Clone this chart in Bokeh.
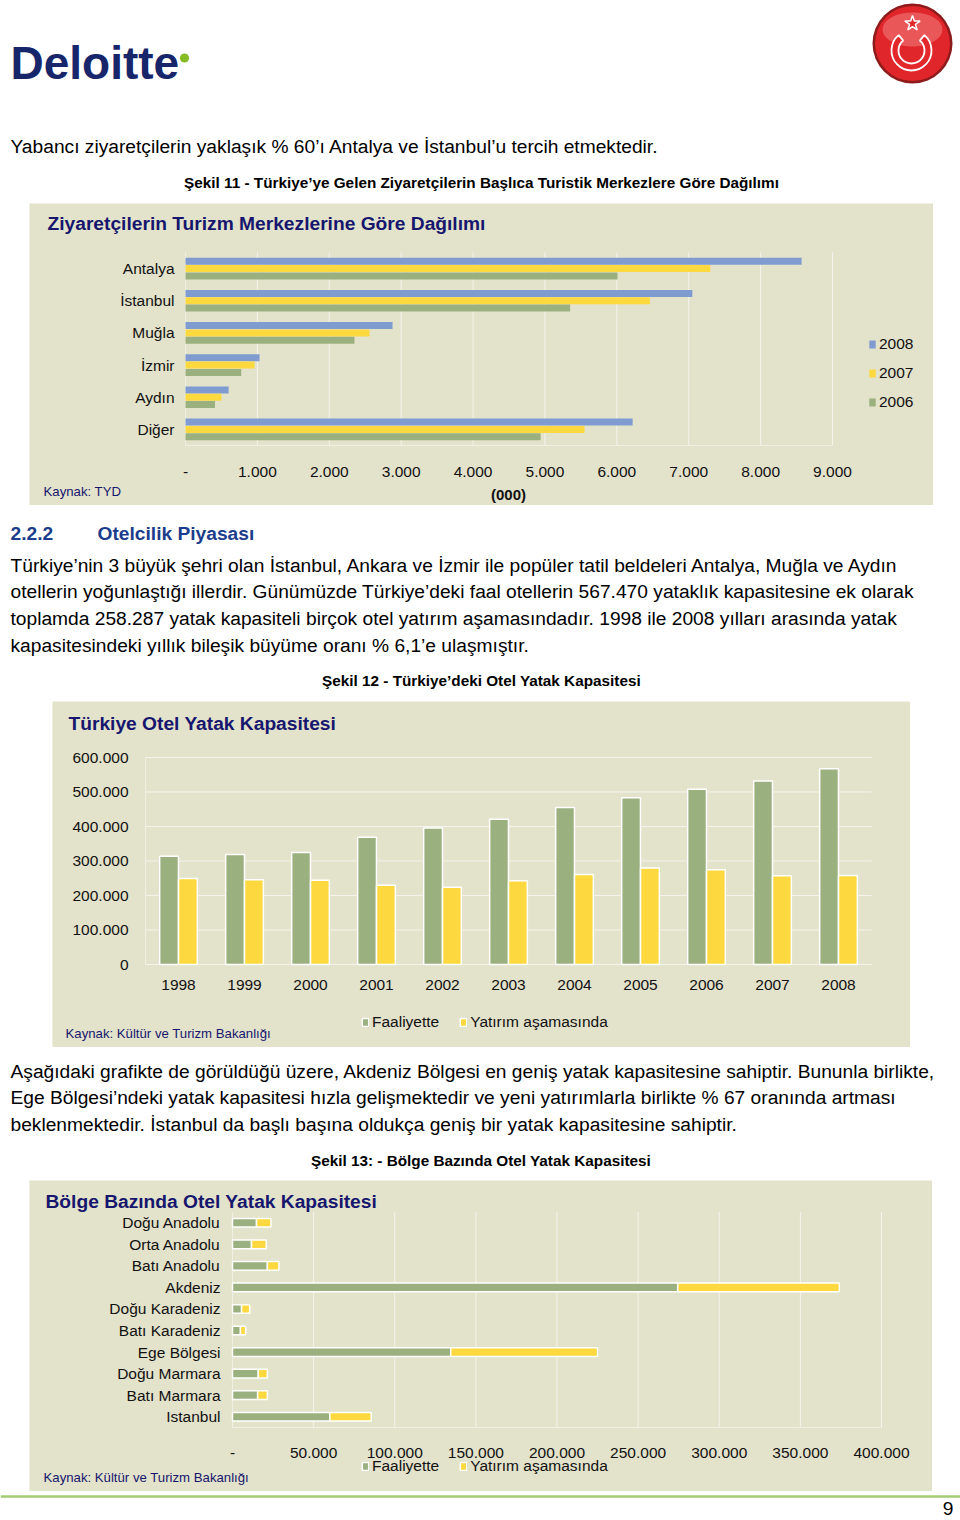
from bokeh.plotting import figure
from bokeh.models import Range1d, ColumnDataSource, Spacer, Legend, LegendItem
from bokeh.layouts import column, row
from bokeh.core.properties import value
from bokeh.embed import file_html
from bokeh.resources import INLINE

FONT = "Liberation Sans"
BG = "#e3e2cb"
NAVY = "#16166e"
BLUE_H = "#1c3c8c"
C_BLUE = "#7f9bd0"
C_YEL = "#fdd83f"
C_GRN = "#9bb07f"
GRID = "#f4f4ec"
AXIS = "#efefe4"
TXT = "#111111"

# ---------------- data: chart 1 (visitors, thousands) ----------------
centers = ["Antalya", "İstanbul", "Muğla", "İzmir", "Aydın", "Diğer"]
v2008 = [8570, 7050, 2880, 1030, 600, 6220]
v2007 = [7300, 6460, 2560, 960, 500, 5550]
v2006 = [6010, 5350, 2350, 775, 410, 4940]
x1_ticks = [0, 1000, 2000, 3000, 4000, 5000, 6000, 7000, 8000, 9000]
x1_labels = ["-", "1.000", "2.000", "3.000", "4.000", "5.000", "6.000", "7.000", "8.000", "9.000"]

# ---------------- data: chart 2 (bed capacity) ----------------
years = ["1998", "1999", "2000", "2001", "2002", "2003", "2004", "2005", "2006", "2007", "2008"]
faaliyette = [313600, 319000, 325000, 369000, 396000, 421000, 455000, 483000, 508000, 532000, 567470]
yatirim = [249000, 246000, 244000, 230000, 224000, 243000, 261000, 280000, 275000, 257000, 258287]
y2_ticks = [0, 100000, 200000, 300000, 400000, 500000, 600000]
y2_labels = ["0", "100.000", "200.000", "300.000", "400.000", "500.000", "600.000"]

# ---------------- data: chart 3 (regional capacity) ----------------
regions = ["Doğu Anadolu", "Orta Anadolu", "Batı Anadolu", "Akdeniz", "Doğu Karadeniz",
           "Batı Karadeniz", "Ege Bölgesi", "Doğu Marmara", "Batı Marmara", "Istanbul"]
reg_faal = [14800, 11700, 21500, 274400, 5600, 4900, 134500, 15900, 15500, 60000]
reg_yat = [8900, 9100, 7100, 99600, 5000, 3200, 90500, 5600, 6000, 25500]
x3_ticks = [0, 50000, 100000, 150000, 200000, 250000, 300000, 350000, 400000]
x3_labels = ["-", "50.000", "100.000", "150.000", "200.000", "250.000", "300.000", "350.000", "400.000"]

# ---------------- texts ----------------
intro = "Yabancı ziyaretçilerin yaklaşık % 60’ı Antalya ve İstanbul’u tercih etmektedir."
cap11 = "Şekil 11 - Türkiye’ye Gelen Ziyaretçilerin Başlıca Turistik Merkezlere Göre Dağılımı"
title1 = "Ziyaretçilerin Turizm Merkezlerine Göre Dağılımı"
sec_num = "2.2.2"
sec_title = "Otelcilik Piyasası"
para1 = ["Türkiye’nin 3 büyük şehri olan İstanbul, Ankara ve İzmir ile popüler tatil beldeleri Antalya, Muğla ve Aydın",
         "otellerin yoğunlaştığı illerdir. Günümüzde Türkiye’deki faal otellerin 567.470 yataklık kapasitesine ek olarak",
         "toplamda 258.287 yatak kapasiteli birçok otel yatırım aşamasındadır. 1998 ile 2008 yılları arasında yatak",
         "kapasitesindeki yıllık bileşik büyüme oranı % 6,1’e ulaşmıştır."]
cap12 = "Şekil 12 - Türkiye’deki Otel Yatak Kapasitesi"
title2 = "Türkiye Otel Yatak Kapasitesi"
para2 = ["Aşağıdaki grafikte de görüldüğü üzere, Akdeniz Bölgesi en geniş yatak kapasitesine sahiptir. Bununla birlikte,",
         "Ege Bölgesi’ndeki yatak kapasitesi hızla gelişmektedir ve yeni yatırımlarla birlikte % 67 oranında artması",
         "beklenmektedir. İstanbul da başlı başına oldukça geniş bir yatak kapasitesine sahiptir."]
cap13 = "Şekil 13: - Bölge Bazında Otel Yatak Kapasitesi"
title3 = "Bölge Bazında Otel Yatak Kapasitesi"
src1 = "Kaynak: TYD"
src23 = "Kaynak: Kültür ve Turizm Bakanlığı"


def text_fig(h, w=960, bg="white"):
    p = figure(width=w, height=h, x_range=Range1d(0, w), y_range=Range1d(h, 0),
               output_backend="svg", toolbar_location=None, title=None,
               x_axis_location=None, y_axis_location=None, min_border=0)
    p.grid.visible = False
    p.outline_line_color = None
    p.background_fill_color = bg
    p.border_fill_color = bg
    return p


def put(p, x, y, s, size, color="#000000", bold=False, align="left", baseline="middle",
        xr="default", yr="default"):
    xs = x if isinstance(x, list) else [x]
    ys = y if isinstance(y, list) else [y]
    ss = s if isinstance(s, list) else [s]
    p.text(x=xs, y=ys, text=ss, text_font=value(FONT), text_font_size=value(f"{size}px"),
           text_font_style="bold" if bold else "normal", text_color=color,
           text_align=align, text_baseline=baseline, x_range_name=xr, y_range_name=yr)


def lin_range(v0, p0, v1, p1, pmin, pmax, vertical=False):
    # value v0 sits at pixel p0 and v1 at p1; the canvas spans pixels pmin..pmax
    k = (v1 - v0) / (p1 - p0)
    a = v0 + (pmin - p0) * k
    b = v0 + (pmax - p0) * k
    return Range1d(b, a) if vertical else Range1d(a, b)


def chart_canvas(left, top, w, h, xr, yr):
    p = figure(width=w, height=h, x_range=xr, y_range=yr, output_backend="svg",
               toolbar_location=None, title=None, min_border=0,
               x_axis_location=None, y_axis_location=None)
    p.grid.visible = False
    p.extra_x_ranges = {"px": Range1d(left, left + w)}
    p.extra_y_ranges = {"px": Range1d(top + h, top)}
    p.background_fill_color = BG
    p.border_fill_color = BG
    p.outline_line_color = None
    return p


def make_legend(items, loc, orient, spacing, gw=7, gh=9):
    lg = Legend(items=items, location=loc, orientation=orient)
    lg.padding = 0
    lg.margin = 0
    lg.spacing = spacing
    lg.glyph_width = gw
    lg.glyph_height = gh
    lg.label_height = 20
    lg.label_standoff = 3
    lg.background_fill_alpha = 0
    lg.border_line_color = None
    lg.label_text_font = FONT
    lg.label_text_font_size = "15.5px"
    lg.label_text_color = TXT
    return lg


# ================= header (page y 0-203) =================
hdr = text_fig(203)
hdr.text(x=[10], y=[62], text=["Deloitte"], text_font=value(FONT), text_font_size=value("46px"),
         text_font_style="bold", text_color="#17266b", text_baseline="alphabetic")
hdr.circle(x=[184], y=[57.5], radius=4.6, fill_color="#86bc25", line_color=None)
hdr.circle(x=[912], y=[43], radius=40, fill_color="#8e1b1b", line_color=None)
hdr.circle(x=[912], y=[43], radius=37.5, fill_color="#e1262b", line_color=None)
hdr.ellipse(x=[912], y=[29], width=60, height=34, fill_color="#f28080", fill_alpha=0.55, line_color=None)
hdr.annular_wedge(x=[911], y=[50], inner_radius=13, outer_radius=20, start_angle=130, end_angle=50,
                  start_angle_units="deg", end_angle_units="deg", direction="anticlock",
                  fill_color="#e3282c", line_color="white", line_width=1.8)
hdr.scatter(x=[912], y=[23], marker="star", size=16, fill_color="#e3282c", line_color="white", line_width=1.5)
put(hdr, 10, 146, intro, 19.2)
put(hdr, 481, 182, cap11, 15.3, bold=True, align="center")

# ================= chart 1 (panel x 29-933, y 203-505) =================
n1 = len(centers)
pos1 = [n1 - i - 0.5 for i in range(n1)]
p1 = chart_canvas(29, 203, 904, 302,
                  lin_range(0, 185, 9000, 832, 29, 933),
                  lin_range(0, 445, n1, 252, 203, 505, vertical=True))
p1.segment(x0=x1_ticks, y0=[0] * len(x1_ticks), x1=x1_ticks, y1=[n1] * len(x1_ticks),
           line_color=GRID, line_width=1)
p1.segment(x0=[0, 0], y0=[0, 0], x1=[0, x1_ticks[-1]], y1=[n1, 0], line_color=AXIS, line_width=1)
s1 = ColumnDataSource(dict(p=pos1, a=v2008, b=v2007, d=v2006,
                           pa=[v + 0.227 for v in pos1], pd=[v - 0.227 for v in pos1]))
r08 = p1.hbar(y="pa", right="a", left=0, height=0.217, source=s1, fill_color=C_BLUE, line_color=None)
r07 = p1.hbar(y="p", right="b", left=0, height=0.217, source=s1, fill_color=C_YEL, line_color=None)
r06 = p1.hbar(y="pd", right="d", left=0, height=0.217, source=s1, fill_color=C_GRN, line_color=None)
put(p1, x1_ticks, [471] * len(x1_ticks), x1_labels, 15.5, TXT, align="center", yr="px")
put(p1, [174] * n1, pos1, centers, 15.5, TXT, align="right", xr="px")
put(p1, 47, 223, title1, 19.2, NAVY, bold=True, xr="px", yr="px")
put(p1, 43, 491, src1, 13.2, NAVY, xr="px", yr="px")
put(p1, 508, 494, "(000)", 15, TXT, bold=True, align="center", xr="px", yr="px")
p1.add_layout(make_legend([LegendItem(label="2008", renderers=[r08]),
                           LegendItem(label="2007", renderers=[r07]),
                           LegendItem(label="2006", renderers=[r06])], (839, 93), "vertical", 9,
                          gw=8, gh=10))

# ================= text section 1 (page y 505-701) =================
t1 = text_fig(196)
put(t1, 10, 28, sec_num, 19.2, BLUE_H, bold=True)
put(t1, 97, 28, sec_title, 19.2, BLUE_H, bold=True)
for i, yy in enumerate([60, 86, 113, 140]):
    put(t1, 10, yy, para1[i], 19.2)
put(t1, 481, 175, cap12, 15.3, bold=True, align="center")

# ================= chart 2 (panel x 52-910, y 701-1047) =================
n2 = len(years)
pos2 = [i + 0.5 for i in range(n2)]
p2 = chart_canvas(52, 701, 858, 346,
                  lin_range(0, 145, n2, 871, 52, 910),
                  lin_range(0, 964, 600000, 757, 701, 1047, vertical=True))
p2.segment(x0=[0] * len(y2_ticks), y0=y2_ticks, x1=[n2] * len(y2_ticks), y1=y2_ticks,
           line_color=GRID, line_width=1)
p2.segment(x0=[0], y0=[0], x1=[0], y1=[y2_ticks[-1]], line_color=AXIS, line_width=1)
s2 = ColumnDataSource(dict(xg=[v - 0.143 for v in pos2], xy=[v + 0.143 for v in pos2],
                           f=faaliyette, y=yatirim))
rf = p2.vbar(x="xg", top="f", bottom=0, width=0.285, source=s2,
             fill_color=C_GRN, line_color="white", line_width=1.5)
ry = p2.vbar(x="xy", top="y", bottom=0, width=0.285, source=s2,
             fill_color=C_YEL, line_color="white", line_width=1.5)
put(p2, [128] * len(y2_ticks), y2_ticks, y2_labels, 15.5, TXT, align="right", xr="px")
put(p2, pos2, [984] * n2, years, 15.5, TXT, align="center", yr="px")
put(p2, 68, 723, title2, 19.2, NAVY, bold=True, xr="px", yr="px")
put(p2, 65, 1033, src23, 13.2, NAVY, xr="px", yr="px")
p2.add_layout(make_legend([LegendItem(label="Faaliyette", renderers=[rf]),
                           LegendItem(label="Yatırım aşamasında", renderers=[ry])],
                          (309, 15), "horizontal", 20, gw=8, gh=10))

# ================= text section 2 (page y 1047-1180) =================
t2 = text_fig(133)
for i, yy in enumerate([24, 50, 77]):
    put(t2, 10, yy, para2[i], 19.2)
put(t2, 480.5, 113, cap13, 15.3, bold=True, align="center")

# ================= chart 3 (panel x 29-932, y 1180-1491) =================
n3 = len(regions)
pos3 = [n3 - i - 0.5 for i in range(n3)]
p3 = chart_canvas(29, 1180, 903, 311,
                  lin_range(0, 232, 400000, 881, 29, 932),
                  lin_range(0, 1427, n3, 1211.5, 1180, 1491, vertical=True))
p3.segment(x0=x3_ticks, y0=[0] * len(x3_ticks), x1=x3_ticks, y1=[n3] * len(x3_ticks),
           line_color=GRID, line_width=1)
p3.segment(x0=[0, 0], y0=[0, 0], x1=[0, x3_ticks[-1]], y1=[n3, 0], line_color=AXIS, line_width=1)
s3 = ColumnDataSource(dict(p=pos3, fa=reg_faal, ya=reg_yat))
rs = p3.hbar_stack(["fa", "ya"], y="p", height=0.4, source=s3, color=[C_GRN, C_YEL],
                   line_color="white", line_width=1.5)
put(p3, x3_ticks, [1452] * len(x3_ticks), x3_labels, 15.5, TXT, align="center", yr="px")
put(p3, [220] * n3, pos3, regions, 15.5, TXT, align="right", xr="px")
put(p3, 45, 1201, title3, 19.2, NAVY, bold=True, xr="px", yr="px")
put(p3, 43, 1477, src23, 13.2, NAVY, xr="px", yr="px")
p3.add_layout(make_legend([LegendItem(label="Faaliyette", renderers=[rs[0]]),
                           LegendItem(label="Yatırım aşamasında", renderers=[rs[1]])],
                          (332, 15), "horizontal", 20, gw=8, gh=10))

# ================= footer (page y 1491-1520) =================
ft = text_fig(29)
ft.line(x=[0, 960], y=[5, 5], line_color="#a3cc74", line_width=2.5)
put(ft, 953, 16.5, "9", 19.2, align="right", baseline="middle")

layout = column(
    hdr,
    row(Spacer(width=29, height=302), p1),
    t1,
    row(Spacer(width=52, height=346), p2),
    t2,
    row(Spacer(width=29, height=311), p3),
    ft,
)

open("out.html", "w").write(file_html(layout, INLINE))
